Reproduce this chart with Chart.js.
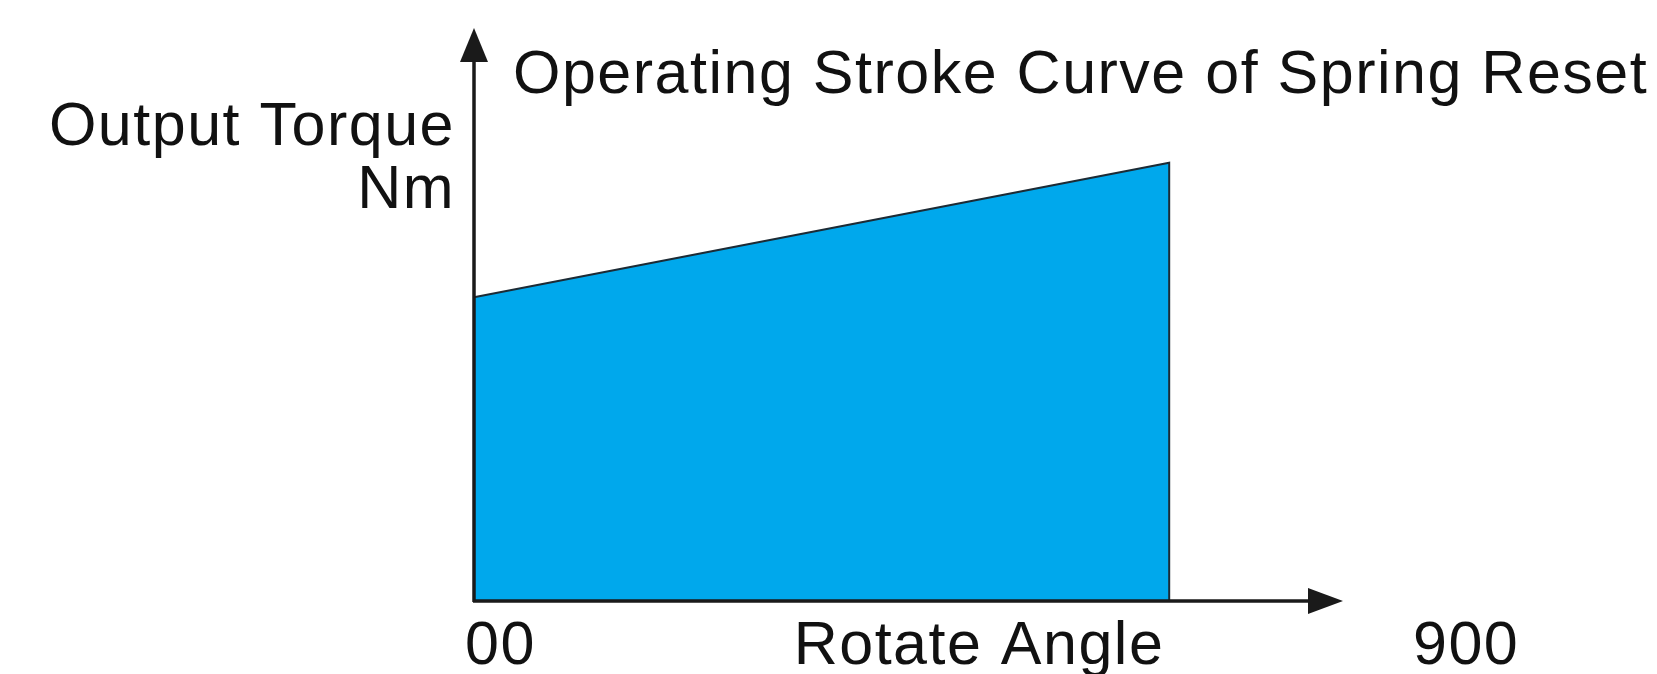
<!DOCTYPE html>
<html>
<head>
<meta charset="utf-8">
<script src="https://cdn.jsdelivr.net/npm/chart.js@4"></script>
<style>
  html, body { margin: 0; padding: 0; background: #fff; }
  #wrap { width: 1657px; height: 674px; }
</style>
</head>
<body>
<div id="wrap"><canvas id="strokeChart" width="1657" height="674"></canvas></div>
<script>
// data (torque in arbitrary units, angle in degrees)
var angles = [0, 66, 66];
var torque = [5.3, 7.65, 0];
var tickValues = [0, 90];
var tickLabels = ["00", "900"];
var title = "Operating Stroke Curve of Spring Reset";
var yTitle = ["Output Torque", "Nm"];
var xTitle = "Rotate Angle";

var FONT = '61px "Liberation Sans", Arial, sans-serif';

// axes with arrows + all texts
var axesPlugin = {
  id: "axesArrows",
  afterDatasetsDraw: function (chart) {
    var ctx = chart.ctx;
    var a = chart.chartArea;
    var xs = chart.scales.x;
    var x0 = Math.round(a.left), y0 = Math.round(a.bottom);

    ctx.save();
    ctx.strokeStyle = "#1a1a1a";
    ctx.fillStyle = "#1a1a1a";
    ctx.lineWidth = 3.5;

    // y axis
    ctx.beginPath();
    ctx.moveTo(x0, y0 + 1);
    ctx.lineTo(x0, a.top + 30);
    ctx.stroke();
    ctx.beginPath();
    ctx.moveTo(x0, a.top);
    ctx.lineTo(x0 - 14, a.top + 34);
    ctx.lineTo(x0 + 14, a.top + 34);
    ctx.closePath();
    ctx.fill();

    // x axis
    ctx.beginPath();
    ctx.moveTo(x0 - 1, y0);
    ctx.lineTo(a.right - 30, y0);
    ctx.stroke();
    ctx.beginPath();
    ctx.moveTo(a.right, y0);
    ctx.lineTo(a.right - 35, y0 - 13);
    ctx.lineTo(a.right - 35, y0 + 13);
    ctx.closePath();
    ctx.fill();

    // texts
    ctx.fillStyle = "#111";
    ctx.font = FONT;
    ctx.letterSpacing = "1.5px";
    ctx.textBaseline = "alphabetic";

    ctx.textAlign = "left";
    ctx.fillText(title, 513, 93);

    ctx.textAlign = "right";
    ctx.fillText(yTitle[0], 455, 145);
    ctx.fillText(yTitle[1], 455, 208);

    ctx.textAlign = "left";
    tickValues.forEach(function (v, i) {
      ctx.fillText(tickLabels[i], xs.getPixelForValue(v) - 9, 664);
    });

    ctx.textAlign = "center";
    ctx.fillText(xTitle, 979, 664);
    ctx.restore();
  }
};

var config = {
  type: "line",
  data: {
    datasets: [
      {
        data: angles.map(function (a, i) { return { x: a, y: torque[i] }; }),
        borderColor: "#1c2b35",
        borderWidth: 2,
        backgroundColor: "#00a8ec",
        fill: "origin",
        pointRadius: 0,
        tension: 0,
        clip: false
      }
    ]
  },
  options: {
    responsive: false,
    animation: false,
    layout: { padding: { left: 474, right: 314, top: 28, bottom: 73 } },
    scales: {
      x: { type: "linear", min: 0, max: 82.5, display: false },
      y: { type: "linear", min: 0, max: 10, display: false }
    },
    plugins: {
      legend: { display: false },
      tooltip: { enabled: false }
    }
  },
  plugins: [axesPlugin]
};

new Chart(document.getElementById("strokeChart").getContext("2d"), config);
</script>
</body>
</html>
